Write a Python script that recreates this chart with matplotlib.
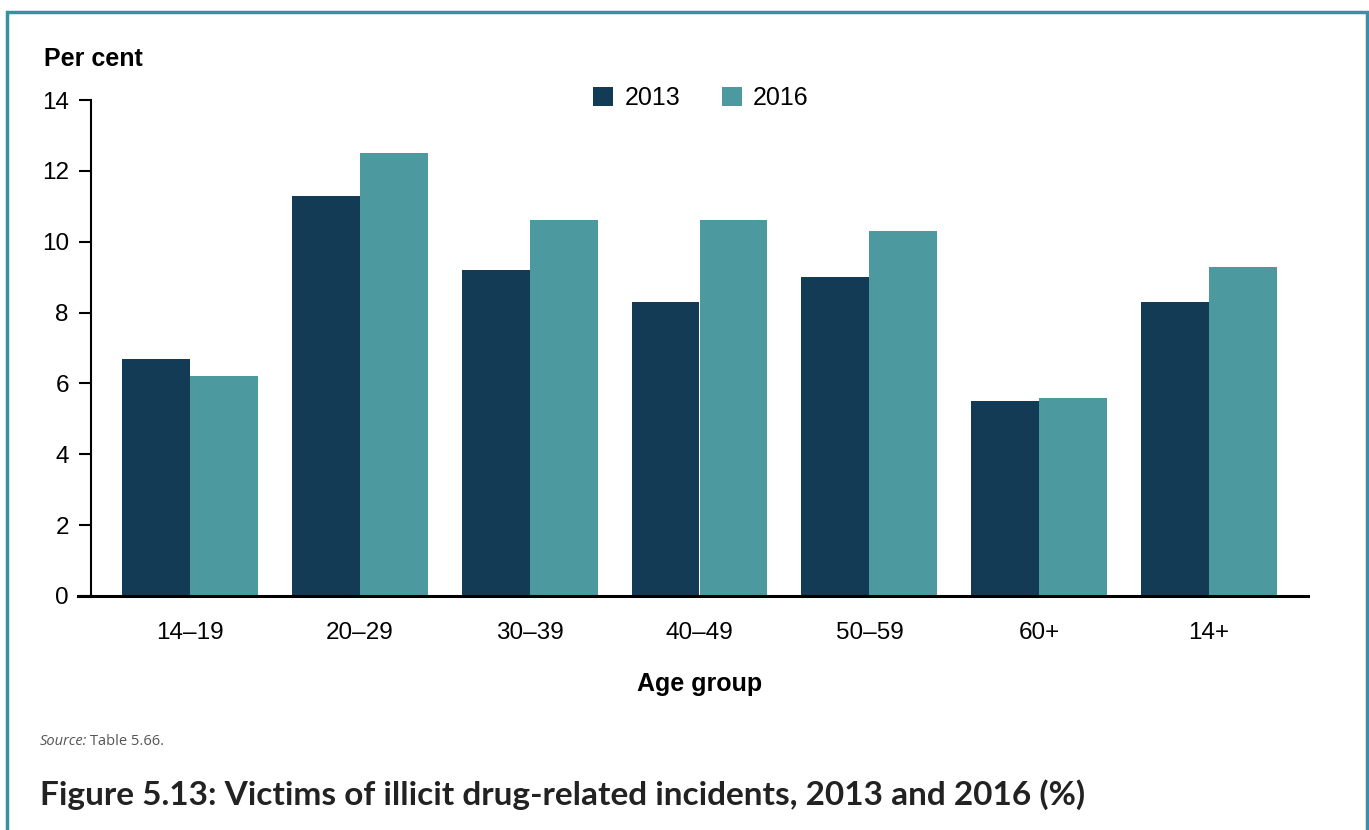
import matplotlib.pyplot as plt
import matplotlib.patches as mpatches
import numpy as np

# data
age_groups = ['14–19', '20–29', '30–39', '40–49', '50–59', '60+', '14+']
pct_2013 = [6.7, 11.3, 9.2, 8.3, 9.0, 5.5, 8.3]
pct_2016 = [6.2, 12.5, 10.6, 10.6, 10.3, 5.6, 9.3]
yticks = [0, 2, 4, 6, 8, 10, 12, 14]

c2013 = '#133b55'
c2016 = '#4c9a9f'
border = '#3a8fa3'

plt.rcParams['font.family'] = ['Liberation Sans', 'DejaVu Sans']

W, H = 1369, 830
fig = plt.figure(figsize=(W / 100, H / 100), dpi=100)
ax = fig.add_axes([91 / W, 1 - 596 / H, (1308 - 91) / W, (596 - 100) / H])

x = np.arange(len(age_groups))
bw = 0.4
ax.bar(x - bw / 2, pct_2013, width=bw, color=c2013, label='2013')
ax.bar(x + bw / 2, pct_2016, width=bw, color=c2016, label='2016')

ax.set_xlim(-0.582, len(age_groups) - 1 + 0.582)
ax.set_ylim(0, 14)
ax.set_yticks(yticks)
ax.set_xticks(x)
ax.set_xticklabels(age_groups)
for s in ['top', 'right']:
    ax.spines[s].set_visible(False)
ax.spines['left'].set_linewidth(1.5)
ax.spines['bottom'].set_linewidth(2.2)
ax.tick_params(axis='y', direction='out', length=9, width=1.5, labelsize=17.5, pad=7)
ax.tick_params(axis='x', length=0, labelsize=17.5, pad=19)
# baseline stub extending left of the y-axis
ax.plot([-0.582 - 13 / 170, -0.582], [0, 0], color='black', lw=2.2, clip_on=False)

ax.set_xlabel('Age group', fontsize=18, fontweight='bold', labelpad=20)
fig.text(44 / W, 1 - 59 / H, 'Per cent', fontsize=18, fontweight='bold', va='center', ha='left')

leg = fig.legend(loc='center', bbox_to_anchor=(701 / W, 1 - 98 / H), ncol=2, frameon=False,
                 fontsize=18, handlelength=0.8, handleheight=0.8, handletextpad=0.45,
                 columnspacing=1.65)

fig.text(40 / W, 1 - 741 / H, 'Source:', fontsize=10.5, style='italic', color='#555555',
         family=['Open Sans', 'DejaVu Sans'], va='center')
fig.text(90 / W, 1 - 741 / H, 'Table 5.66.', fontsize=10.5, color='#555555',
         family=['Open Sans', 'DejaVu Sans'], va='center')
fig.text(40 / W, 1 - 795 / H, 'Figure 5.13: Victims of illicit drug-related incidents, 2013 and 2016 (%)',
         fontsize=24, fontweight='bold', color='#222222', family=['Lato', 'DejaVu Sans'], va='center')

rect = mpatches.Rectangle((7 / W, -0.1), (1367 - 7) / W, 1.1 - 12 / H, transform=fig.transFigure,
                          fill=False, edgecolor=border, lw=2.5, clip_on=False)
fig.patches.append(rect)

fig.savefig('out.png', dpi=100)
